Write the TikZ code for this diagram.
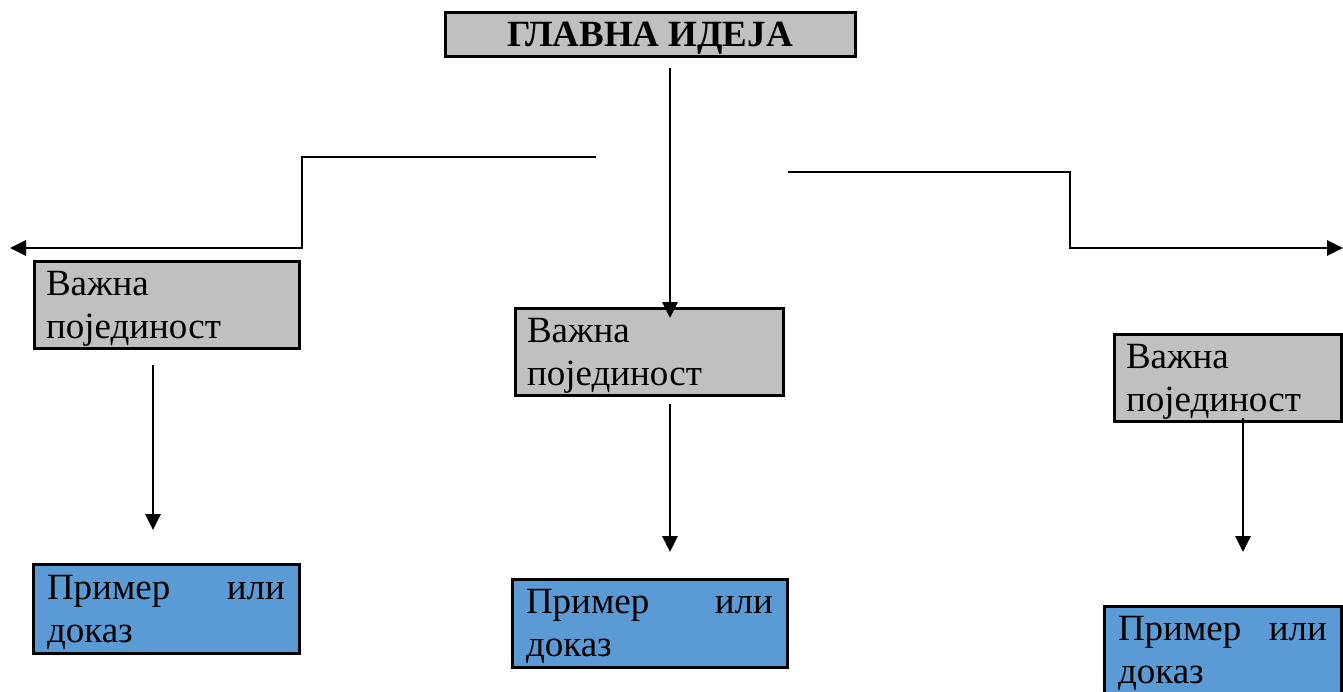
\documentclass[tikz,border=0pt]{standalone}
\usepackage{fontspec}
\setmainfont{Liberation Serif}
\usetikzlibrary{arrows.meta}
\definecolor{boxgray}{HTML}{C0C0C0}
\definecolor{boxblue}{HTML}{5B9BD5}
\newcommand{\topstrut}{\rule{0pt}{32pt}}
\begin{document}
\begin{tikzpicture}[x=1pt,y=-1pt,
  gbox/.style={draw=black, line width=3pt, fill=boxgray, inner xsep=12pt, inner ysep=2pt,
    align=left, font=\fontsize{37}{43}\selectfont},
  bbox/.style={draw=black, line width=3pt, fill=boxblue, inner xsep=14pt, inner ysep=2pt,
    align=left, font=\fontsize{37}{43}\selectfont},
  arr/.style={line width=2.8pt, -{Triangle[length=16pt,width=15pt]}},
  ln/.style={line width=2.8pt}]
\useasboundingbox (0,0) rectangle (1343,691);
\fill[white] (0,0) rectangle (1343,691);
% main
\node[draw=black, line width=3pt, fill=boxgray, minimum width=410pt, minimum height=44pt,
  inner sep=0pt, text depth=0pt, font=\bfseries\fontsize{37}{42}\selectfont] (main) at (650,34) {ГЛАВНА ИДЕЈА};
% gray boxes
\node[gbox, text width=241pt, minimum height=87pt] (g1) at (166.5,304.5) {\topstrut Важна\\појединост};
\node[gbox, text width=244pt, minimum height=87pt] (g2) at (649,351.5) {\topstrut Важна\\појединост};
\node[gbox, text width=203pt, minimum height=86pt] (g3) at (1227.5,378) {\topstrut Важна\\појединост};
% blue boxes
\node[bbox, text width=238pt, minimum height=89pt] (b1) at (166,608.5) {\topstrut Пример \hfill или\\доказ};
\node[bbox, text width=247pt, minimum height=88pt] (b2) at (649.5,623) {\topstrut Пример \hfill или\\доказ};
\node[bbox, text width=209pt, minimum height=88pt] (b3) at (1222.5,650) {\topstrut Пример \hfill или\\доказ};
% connectors
\coordinate (m0) at (670,68);
\coordinate (m1) at (670,318);
\draw[arr] (m0) -- (m1);
\coordinate (l0) at (596,157);
\coordinate (l1) at (10,248);
\draw[arr] (l0) -- (302,157) -- (302,248) -- (l1);
\coordinate (r0) at (788,172);
\coordinate (r1) at (1343,248);
\draw[arr] (r0) -- (1070,172) -- (1070,248) -- (r1);
\coordinate (d1) at (153,530);
\draw[arr] (153,365) -- (d1);
\coordinate (d2) at (670,552);
\draw[arr] (670,404) -- (d2);
\coordinate (d3) at (1243,552);
\draw[arr] (1243,418) -- (d3);
\end{tikzpicture}
\end{document}
